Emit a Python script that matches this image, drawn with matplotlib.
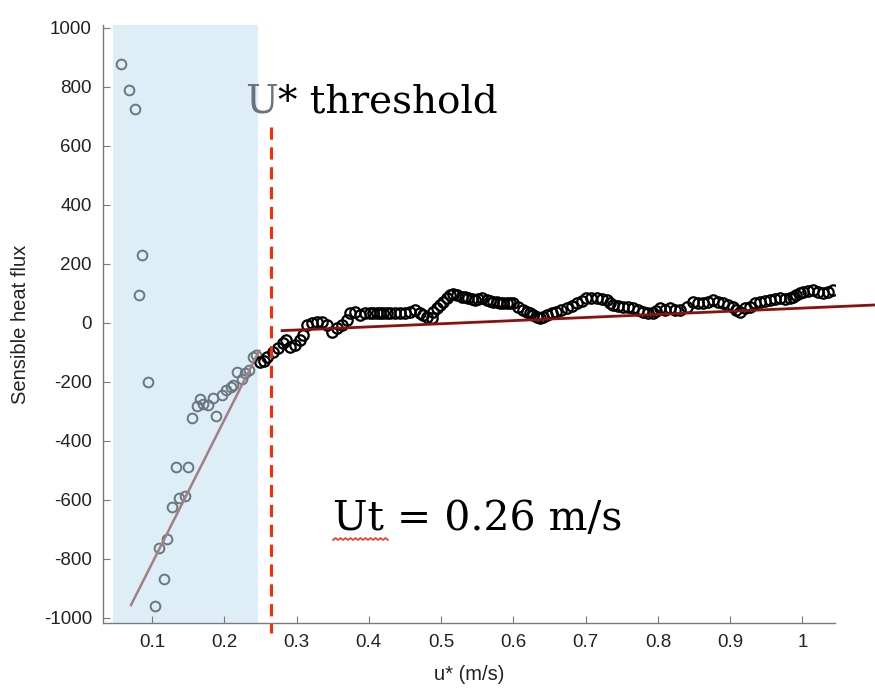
import matplotlib
matplotlib.use('Agg')
import matplotlib.pyplot as plt
import numpy as np

plt.rcParams['axes.unicode_minus'] = False

# low u* points (grey, inside the shaded box)
low_u = [0.0567, 0.0682, 0.0765, 0.0866, 0.0824, 0.0949, 0.1041, 0.1097, 0.1170,
         0.1212, 0.1272, 0.1332, 0.1378, 0.1456, 0.1502, 0.1549, 0.1618, 0.1664,
         0.1710, 0.1779, 0.1848, 0.1885, 0.1964, 0.2024, 0.2089, 0.2124, 0.2172,
         0.2241, 0.2286, 0.2342, 0.2393, 0.2434]
low_h = [879, 790, 724, 231, 95, -199, -959, -764, -868,
         -732, -625, -487, -592, -585, -487, -323, -281, -259,
         -275, -278, -255, -315, -244, -227, -218, -210, -165,
         -191, -171, -159, -114, -108]

# high u* points (black)
high_u = [0.2494, 0.2549, 0.2586, 0.2669, 0.2747, 0.2816, 0.2853, 0.2909, 0.2978,
          0.3047, 0.3093, 0.3140, 0.3209, 0.3278, 0.3347, 0.3416, 0.3485, 0.3555,
          0.3624, 0.3693, 0.3739, 0.3808, 0.3877, 0.3946, 0.4015, 0.4061, 0.4108,
          0.4154, 0.4199, 0.4245, 0.4292, 0.4361, 0.4430, 0.4499, 0.4568, 0.4638,
          0.4707, 0.4752, 0.4799, 0.4869, 0.4891, 0.4938, 0.4983, 0.5029, 0.5075,
          0.5122, 0.5167, 0.5214, 0.5284, 0.5329, 0.5375, 0.5422, 0.5467, 0.5513,
          0.5560, 0.5629, 0.5675, 0.5721, 0.5767, 0.5813, 0.5859, 0.5906, 0.5952,
          0.5997, 0.6066, 0.6136, 0.6182, 0.6228, 0.6274, 0.6321, 0.6367, 0.6412,
          0.6459, 0.6528, 0.6597, 0.6666, 0.6736, 0.6805, 0.6874, 0.6943, 0.7012,
          0.7081, 0.7151, 0.7220, 0.7289, 0.7334, 0.7380, 0.7450, 0.7519, 0.7588,
          0.7657, 0.7726, 0.7795, 0.7865, 0.7934, 0.7980, 0.8026, 0.8095, 0.8165,
          0.8234, 0.8303, 0.8396, 0.8487, 0.8556, 0.8625, 0.8694, 0.8763, 0.8833,
          0.8902, 0.8971, 0.9040, 0.9087, 0.9133, 0.9202, 0.9271, 0.9340, 0.9409,
          0.9479, 0.9548, 0.9617, 0.9686, 0.9755, 0.9824, 0.9870, 0.9917, 0.9963,
          1.0009, 1.0078, 1.0147, 1.0216, 1.0285, 1.0354, 1.0423]
high_h = [-132, -128, -115, -97, -86, -69, -58, -80, -75,
          -58, -41, -7, -1, 4, 4, -7, -29, -18,
          -7, 10, 33, 38, 27, 33, 33, 33, 33,
          33, 33, 33, 33, 33, 33, 35, 38, 44,
          33, 27, 21, 16, 38, 50, 61, 72, 84,
          95, 98, 95, 89, 87, 84, 80, 78, 80,
          84, 78, 76, 72, 71, 69, 67, 67, 67,
          67, 55, 44, 38, 33, 27, 21, 16, 21,
          27, 33, 38, 44, 50, 58, 67, 76, 84,
          84, 84, 80, 78, 69, 61, 58, 55, 53,
          50, 44, 38, 35, 33, 42, 50, 44, 50,
          44, 44, 55, 72, 67, 67, 72, 78, 72,
          67, 61, 55, 44, 38, 50, 55, 67, 72,
          75, 78, 81, 84, 81, 84, 89, 95, 101,
          106, 108, 112, 106, 101, 106, 112]

# fitted lines: (slope, y at x0, x0, x1)
low_fit = (4859.0, -956.0, 0.071, 0.2484)
high_fit = (106.0, -26.0, 0.28, 1.10)
u_threshold = 0.265
shade_u = (0.046, 0.247)

fig = plt.figure(figsize=(8.75, 6.9), dpi=100)
ax = fig.add_axes([0.1177, 0.0971, 0.8363, 0.8667])
ax.set_xlim(0.0322, 1.0447)
ax.set_ylim(-1017, 1010)

ax.axvspan(shade_u[0], shade_u[1], color='#ddeef7', zorder=0, lw=0)

ax.plot(low_u, low_h, 'o', mfc='none', mec='#6b7780', ms=7, mew=1.4, zorder=3)
ax.plot(high_u, high_h, 'o', mfc='none', mec='black', ms=7.5, mew=1.6, zorder=3)

s, y0, x0, x1 = low_fit
xx = np.array([x0, x1])
ax.plot(xx, y0 + s * (xx - x0), color='#a37f80', lw=1.8, zorder=4)
s, y0, x0, x1 = high_fit
xx = np.array([x0, x1])
ax.plot(xx, y0 + s * (xx - x0), color='#8b1010', lw=2, zorder=4, clip_on=False)

ax.plot([u_threshold, u_threshold], [664, -1050], color='#ff2a00', lw=2.2,
        ls=(0, (4, 2.5)), zorder=5, clip_on=False)

for sp in ['top', 'right']:
    ax.spines[sp].set_visible(False)
for sp in ['left', 'bottom']:
    ax.spines[sp].set_color('#7a7a7a')
    ax.spines[sp].set_linewidth(1.0)

ax.set_yticks(np.arange(-1000, 1001, 200))
ax.set_xticks(np.arange(0.1, 1.01, 0.1))
ax.set_xticklabels(['0.1', '0.2', '0.3', '0.4', '0.5', '0.6', '0.7', '0.8', '0.9', '1'])
ax.tick_params(direction='in', length=5, color='#7a7a7a', labelsize=13.5,
               labelcolor='#222222', pad=8)
for lab in ax.get_xticklabels() + ax.get_yticklabels():
    lab.set_fontfamily('Liberation Sans')

ax.set_ylabel('Sensible heat flux', fontsize=14.5, family='Liberation Sans',
              color='#222222', labelpad=10)
ax.set_xlabel('u* (m/s)', fontsize=14.5, family='Liberation Sans',
              color='#222222', labelpad=10)

u_txt = fig.text(0.28, 0.826, 'U', fontsize=28, family='DejaVu Serif',
                 color='#68737c', va='bottom')
ax.annotate('* threshold', xy=(1, 0), xycoords=u_txt, va='bottom', ha='left',
            fontsize=28, family='DejaVu Serif', color='black',
            annotation_clip=False)
fig.text(0.381, 0.232, 'Ut = 0.26 m/s', fontsize=29.5, family='DejaVu Serif',
         color='black')

# spell-check squiggle under "Ut"
sq = np.linspace(333, 388, 23)
sq_y = 690 - 540 + 2 * (np.arange(23) % 2)
fig.add_artist(plt.Line2D(sq / 875, sq_y / 690, color='#e8392a', lw=1.2,
                          transform=fig.transFigure))

fig.savefig('out.png', dpi=100)
